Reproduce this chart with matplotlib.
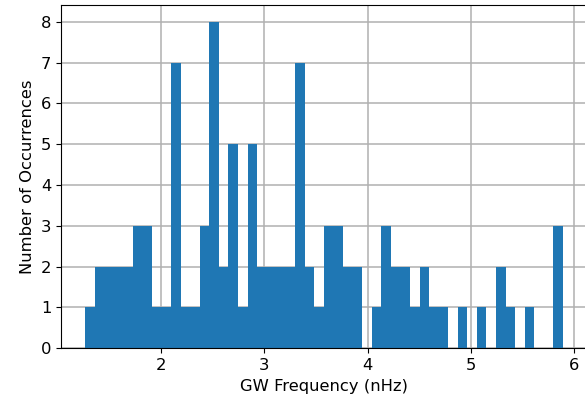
import matplotlib
matplotlib.use('Agg')
import matplotlib.pyplot as plt
import numpy as np

# histogram counts, 50 equal bins between f_min and f_max
f_min = 1.264
f_max = 5.892
counts = [1, 2, 2, 2, 2, 3, 3, 1, 1, 7,
          1, 1, 3, 8, 2, 5, 1, 5, 2, 2,
          2, 2, 7, 2, 1, 3, 3, 2, 2, 0,
          1, 3, 2, 2, 1, 2, 1, 1, 0, 1,
          0, 1, 0, 2, 1, 0, 1, 0, 0, 3]

edges = np.linspace(f_min, f_max, len(counts) + 1)
centers = (edges[:-1] + edges[1:]) / 2

plt.rcParams['font.size'] = 11.8

fig = plt.figure(figsize=(5.85, 4.03), dpi=100)
ax = fig.add_axes([0.1046, 0.1357, 0.8985, 0.8507])

ax.hist(centers, bins=edges, weights=counts, color='#1f77b4')
ax.set_xlabel("GW Frequency (nHz)")
ax.set_ylabel("Number of Occurrences")
ax.grid(linewidth=1.1)
ax.set_axisbelow(True)

fig.savefig('out.png', dpi=100)
